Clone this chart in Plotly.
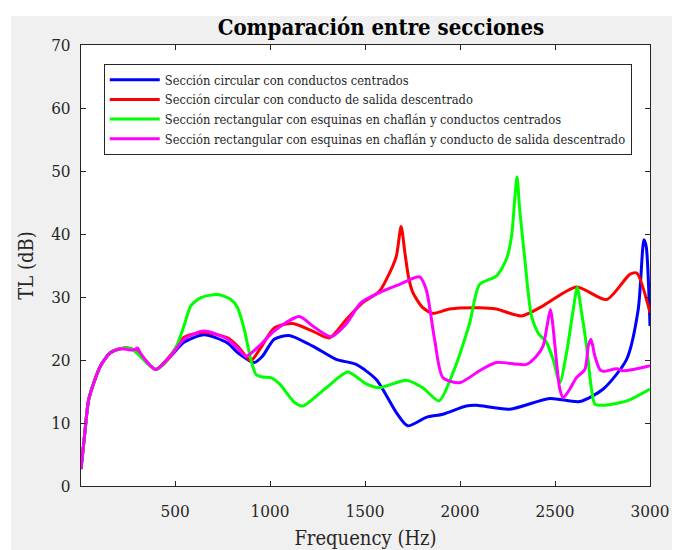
import plotly.graph_objects as go

# Datos (frecuencia en Hz, TL en dB)
f_circ_cent = [5, 27, 46, 108, 161, 213, 266, 302, 398, 477, 547, 653, 776, 829, 917,
               960, 1022, 1100, 1225, 1348, 1453, 1559, 1664, 1725, 1822, 1910, 2033,
               2086, 2262, 2472, 2630, 2754, 2877, 2938, 2968, 2980, 3000]
tl_circ_cent = [2.7, 9.0, 13.8, 19.1, 21.2, 21.8, 21.8, 21.2, 18.5, 20.6, 22.8, 24.0,
                22.7, 21.2, 19.6, 20.6, 23.3, 23.9, 22.2, 20.1, 19.3, 16.9, 11.7, 9.55,
                10.9, 11.4, 12.7, 12.8, 12.2, 13.9, 13.4, 15.4, 20.1, 28.0, 39.1, 38.0, 25.4]

f_circ_desc = [5, 27, 46, 108, 161, 213, 266, 302, 398, 477, 547, 653, 776, 829, 899,
               952, 1022, 1119, 1224, 1312, 1400, 1488, 1576, 1629, 1665, 1690, 1710,
               1730, 1752, 1804, 1857, 1945, 2103, 2191, 2323, 2437, 2613, 2771, 2894,
               2930, 3000]
tl_circ_desc = [2.7, 9.0, 13.8, 19.1, 21.2, 21.8, 21.8, 21.2, 18.5, 20.8, 23.6, 24.4,
                23.5, 22.2, 19.9, 22.0, 25.1, 25.8, 24.6, 23.5, 26.4, 29.1, 30.9, 33.8,
                36.5, 41.2, 37.0, 33.0, 30.7, 28.3, 27.4, 28.1, 28.3, 28.1, 27.0, 28.6,
                31.6, 29.6, 33.6, 33.8, 27.5]

f_rect_cent = [5, 27, 46, 108, 161, 213, 266, 302, 398, 477, 512, 547, 583, 636, 723,
               794, 829, 864, 899, 926, 960, 1005, 1050, 1128, 1172, 1296, 1409, 1506,
               1576, 1717, 1804, 1889, 1963, 2051, 2103, 2191, 2244, 2271, 2288, 2300,
               2314, 2341, 2359, 2376, 2411, 2455, 2490, 2525, 2561, 2596, 2617, 2640,
               2666, 2692, 2710, 2754, 2877, 3000]
tl_rect_cent = [2.7, 9.0, 13.8, 19.1, 21.2, 21.8, 21.8, 21.0, 18.5, 20.6, 22.5, 25.4,
                28.6, 29.9, 30.4, 29.6, 28.3, 24.9, 20.1, 17.7, 17.3, 17.2, 16.2, 13.3,
                12.7, 15.6, 18.1, 16.2, 15.6, 16.8, 15.6, 13.5, 18.0, 25.9, 32.0, 33.3,
                36.0, 39.6, 45.5, 49.1, 43.9, 36.0, 30.7, 27.0, 24.3, 22.8, 20.1, 16.4,
                21.2, 28.0, 31.5, 27.5, 22.2, 15.4, 13.0, 12.8, 13.5, 15.4]

f_rect_desc = [5, 27, 46, 108, 161, 213, 266, 290, 302, 320, 398, 477, 547, 653, 776,
               829, 873, 952, 1022, 1154, 1225, 1321, 1400, 1479, 1576, 1682, 1787,
               1822, 1866, 1910, 1998, 2103, 2191, 2349, 2402, 2437, 2458, 2476, 2525,
               2543, 2578, 2613, 2657, 2675, 2689, 2710, 2736, 2754, 2824, 2859, 2912,
               3000]
tl_rect_desc = [2.7, 9.0, 13.8, 19.1, 21.2, 21.8, 21.6, 21.7, 21.9, 21.0, 18.5, 20.6,
                23.3, 24.6, 23.3, 21.9, 20.6, 22.5, 24.6, 26.9, 25.4, 23.7, 25.7, 29.1,
                30.7, 32.0, 33.2, 31.2, 23.3, 17.2, 16.4, 18.3, 19.6, 19.3, 20.6, 22.2,
                25.4, 28.0, 15.4, 14.0, 15.4, 17.2, 18.5, 22.2, 23.3, 20.6, 18.5, 18.2,
                18.6, 18.3, 18.5, 19.1]

series = [
    ('Sección circular con conductos centrados', f_circ_cent, tl_circ_cent, '#0000ff'),
    ('Sección circular con conducto de salida descentrado', f_circ_desc, tl_circ_desc, '#ff0000'),
    ('Sección rectangular con esquinas en chaflán y conductos centrados', f_rect_cent, tl_rect_cent, '#00ff00'),
    ('Sección rectangular con esquinas en chaflán y conducto de salida descentrado', f_rect_desc, tl_rect_desc, '#ff00ff'),
]

x_ticks = [500, 1000, 1500, 2000, 2500, 3000]
y_ticks = [0, 10, 20, 30, 40, 50, 60, 70]

SERIF = '"DejaVu Serif Condensed", "Liberation Serif", serif'
AXIS_COLOR = '#262626'

fig = go.Figure()
for name, f, tl, color in series:
    fig.add_trace(go.Scatter(
        x=f, y=tl, name=name, mode='lines',
        line=dict(color=color, width=3, shape='spline', smoothing=0.7),
    ))

axis_style = dict(
    showgrid=False, zeroline=False, showline=True, linecolor=AXIS_COLOR, linewidth=1,
    mirror='ticks', ticks='inside', ticklen=5, tickcolor=AXIS_COLOR,
    tickfont=dict(family=SERIF, size=17, color=AXIS_COLOR),
)

fig.update_xaxes(range=[5, 3000], tickvals=x_ticks, automargin=False, ticklabelstandoff=10,
                 title=dict(text='Frequency (Hz)', font=dict(family=SERIF, size=20, color=AXIS_COLOR),
                            standoff=12),
                 **axis_style)
fig.update_yaxes(range=[0, 70], tickvals=y_ticks, automargin=False, ticklabelstandoff=6,
                 title=dict(text='TL (dB)', font=dict(family=SERIF, size=20, color=AXIS_COLOR),
                            standoff=12),
                 **axis_style)

# la pagina tiene 8 px de margen, por eso el lienzo es 672x542
fig.update_layout(
    width=672, height=542,
    margin=dict(l=73, r=30, t=37, b=64),
    paper_bgcolor='white', plot_bgcolor='white',
    title=dict(text='<b>Comparación entre secciones</b>', x=0.555, xanchor='center',
               y=0.965, yanchor='middle',
               font=dict(family=SERIF, size=22, color='black')),
    legend=dict(x=0.04, y=0.957, xanchor='left', yanchor='top',
                bgcolor='white', bordercolor=AXIS_COLOR, borderwidth=1,
                font=dict(family=SERIF, size=12.8, color=AXIS_COLOR),
                tracegroupgap=0, itemwidth=50),
    showlegend=True,
    shapes=[
        dict(type='rect', xref='paper', yref='paper', x0=-0.1228, x1=1.06, y0=-0.15, y1=1.0656,
             fillcolor='#f0f0f0', line_width=0, layer='below'),
        dict(type='rect', xref='paper', yref='paper', x0=0, x1=1, y0=0, y1=1,
             fillcolor='white', line_width=0, layer='below'),
    ],
)

fig.write_html('out.html')
